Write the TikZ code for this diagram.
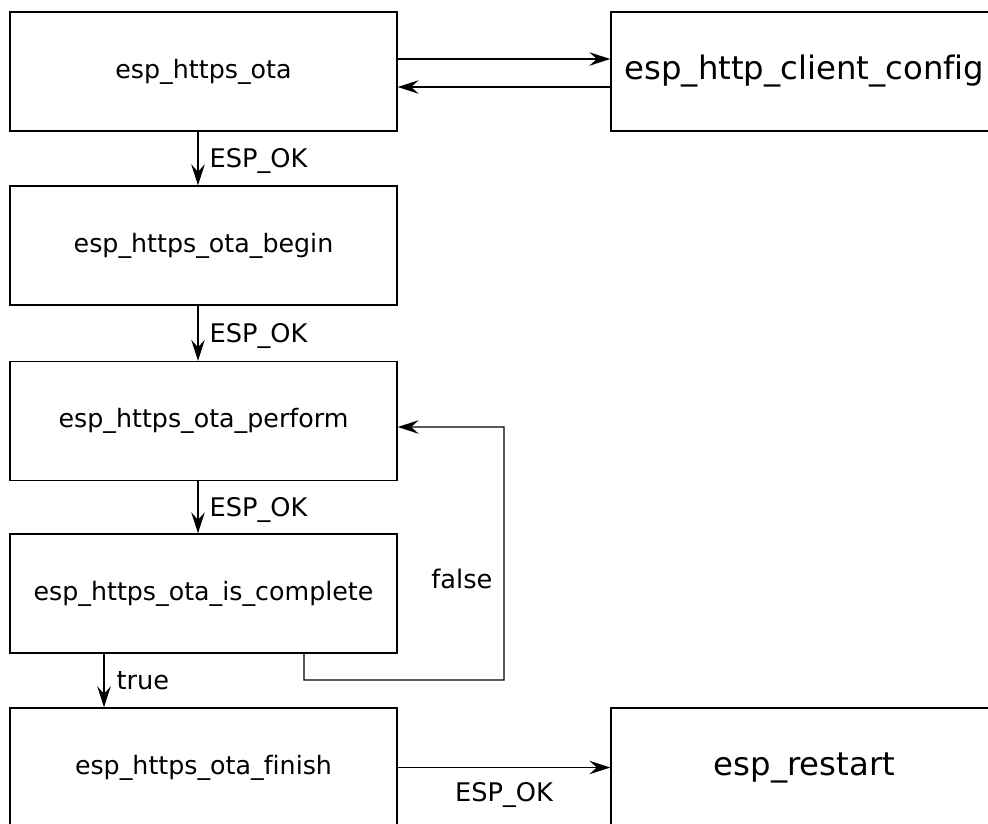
\documentclass[tikz,border=0pt]{standalone}
\usepackage{fontspec}
\setmainfont[Ligatures=NoCommon]{DejaVu Sans}
\usetikzlibrary{arrows.meta}
\tikzset{>={Stealth[length=0.42cm,width=0.27cm,inset=0.15cm]}}
\usetikzlibrary{positioning}

\begin{document}
\begin{tikzpicture}[x=0.02cm,y=-0.02cm,line width=0.8pt,
	func/.style={draw,minimum width=7.74cm,minimum height=2.38cm,inner sep=0pt,font=\fontsize{14.4}{17}\selectfont},
	bigfunc/.style={func,font=\fontsize{18.4}{22}\selectfont},
	lbl/.style={font=\fontsize{14.6}{17}\selectfont}]
	\useasboundingbox (0,0) rectangle (988,823);
	% functions
	\node [func] (ota) at (203.5,71.5) {esp\_https\_ota};
	\node [bigfunc] (client) at (804.5,71.5) {esp\_http\_client\_config};
	\node [func] (begin) at (203.5,245.5) {esp\_https\_ota\_begin};
	\node [func] (perform) at (203.5,421) {esp\_https\_ota\_perform};
	\node [func] (done) at (203.5,593.5) {esp\_https\_ota\_is\_complete};
	\node [func] (finish) at (203.5,767.5) {esp\_https\_ota\_finish};
	\node [bigfunc] (restart) at (804.5,767.5) {esp\_restart};
	\coordinate (loopb) at (504,680);
	
	\draw [->] ([yshift=0.25cm]ota.east) -- ([yshift=0.25cm]client.west);
	\draw [->] ([yshift=-0.31cm]client.west) -- ([yshift=-0.31cm]ota.east);
	\draw [->] ([xshift=-0.11cm]ota.south) -- node [lbl,right,xshift=0.1cm,yshift=-0.05cm] {ESP\_OK} ([xshift=-0.11cm]begin.north);
	\draw [->] ([xshift=-0.11cm]begin.south) -- node [lbl,right,xshift=0.1cm,yshift=-0.05cm] {ESP\_OK} ([xshift=-0.11cm]perform.north);
	\draw [->] ([xshift=-0.11cm]perform.south) -- node [lbl,right,xshift=0.1cm,yshift=-0.05cm] {ESP\_OK} ([xshift=-0.11cm]done.north);
	\draw [->] ([xshift=-1.99cm]done.south) -- node [lbl,right,xshift=0.12cm] {true} ([xshift=-1.99cm]finish.north);
	\draw [->] ([xshift=2.01cm]done.south) |- (loopb) -- node [lbl,left,pos=0.4,xshift=-0.1cm] {false} (loopb |- 0,427) -- ([yshift=-0.12cm]perform.east);
	\draw [->] (finish.east) -- node [lbl,below,yshift=-0.16cm] {ESP\_OK} (restart.west);
\end{tikzpicture}
\end{document}
